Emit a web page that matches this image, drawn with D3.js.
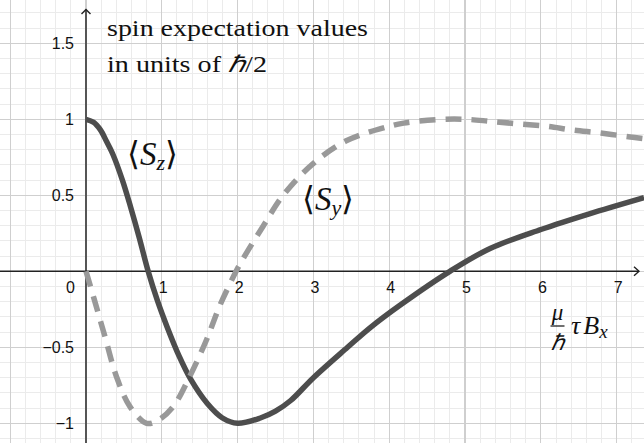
<!DOCTYPE html>
<html>
<head>
<meta charset="utf-8">
<script src="https://cdn.jsdelivr.net/npm/d3@7"></script>
<style>
  body { margin: 0; background: #fff; }
  svg { display: block; }
  svg text.serif, svg text.serif tspan { font-family: 'Liberation Serif' !important; }
  svg text.tick { font-family: 'Liberation Sans' !important; }
</style>
</head>
<body>
<script>
// values (x in units of mu/hbar * tau * Bx)
var szX = [0, 0.1, 0.19, 0.27, 0.35, 0.48, 0.59, 0.70, 0.82, 0.94, 1.07, 1.23, 1.38, 1.6, 1.8, 2.0, 2.3, 2.5, 2.7, 3.0, 3.45, 3.75, 4.15, 4.8, 5.33, 6.0, 6.65, 7.36];
var szY = [1.0, 0.98, 0.93, 0.855, 0.775, 0.6, 0.42, 0.226, 0.0, -0.19, -0.366, -0.56, -0.71, -0.87, -0.965, -1.0, -0.965, -0.92, -0.85, -0.7, -0.5, -0.37, -0.22, 0.0, 0.15, 0.275, 0.38, 0.485];

var syX = [0, 0.1, 0.25, 0.4, 0.58, 0.8, 0.95, 1.15, 1.37, 1.59, 1.77, 1.98, 2.08, 2.34, 2.6, 3.0, 3.44, 3.97, 4.19, 4.63, 5.0, 5.33, 5.7, 6.08, 6.41, 6.78, 7.18, 7.36];
var syY = [0, -0.17, -0.43, -0.69, -0.89, -1.0, -0.98, -0.89, -0.69, -0.45, -0.22, 0.0, 0.09, 0.3, 0.5, 0.71, 0.86, 0.95, 0.975, 0.998, 1.0, 0.987, 0.97, 0.954, 0.93, 0.91, 0.884, 0.873];

var xTicks = [1, 2, 3, 4, 5, 6, 7];
var yTicks = [-1, -0.5, 0.5, 1, 1.5];
var yTickLabels = ["\u22121", "\u22120.5", "0.5", "1", "1.5"];

var width = 644, height = 443;
var serif = "Liberation Serif";

var svg = d3.select("body").append("svg")
  .attr("width", width)
  .attr("height", height);

// pixel position of origin and unit sizes measured on the picture
var x = d3.scaleLinear().domain([0, 7]).range([86, 616.7]);
var y = d3.scaleLinear().domain([-1, 1.5]).range([423.3, 43.3]);

var xMin = x.invert(0), xMax = x.invert(width);
var yMin = y.invert(height), yMax = y.invert(0);

// grid lines: minor every 0.2 / 0.1, major every 1 / 0.5
var minorX = d3.range(Math.ceil(xMin / 0.2), Math.floor(xMax / 0.2) + 1).map(d => d * 0.2);
var minorY = d3.range(Math.ceil(yMin / 0.1), Math.floor(yMax / 0.1) + 1).map(d => d * 0.1);
var majorX = d3.range(Math.ceil(xMin), Math.floor(xMax) + 1);
var majorY = d3.range(Math.ceil(yMin / 0.5), Math.floor(yMax / 0.5) + 1).map(d => d * 0.5);

var grid = svg.append("g").attr("shape-rendering", "crispEdges");
grid.selectAll(".mx").data(minorX).enter().append("line")
  .attr("x1", d => x(d)).attr("x2", d => x(d))
  .attr("y1", 0).attr("y2", height)
  .attr("stroke", "#ebebeb").attr("stroke-width", 1);
grid.selectAll(".my").data(minorY).enter().append("line")
  .attr("y1", d => y(d)).attr("y2", d => y(d))
  .attr("x1", 0).attr("x2", width)
  .attr("stroke", "#ebebeb").attr("stroke-width", 1);
grid.selectAll(".Mx").data(majorX).enter().append("line")
  .attr("x1", d => x(d)).attr("x2", d => x(d))
  .attr("y1", 0).attr("y2", height)
  .attr("stroke", "#cfcfcf").attr("stroke-width", 1.2);
grid.selectAll(".My").data(majorY).enter().append("line")
  .attr("y1", d => y(d)).attr("y2", d => y(d))
  .attr("x1", 0).attr("x2", width)
  .attr("stroke", "#cfcfcf").attr("stroke-width", 1.2);

// axes with open arrow heads
var ax = svg.append("g").attr("stroke", "#222").attr("stroke-width", 1.4).attr("fill", "none");
ax.append("line").attr("x1", 0).attr("x2", 639).attr("y1", y(0)).attr("y2", y(0));
ax.append("path").attr("d", "M634," + (y(0) - 4.5) + "L639," + y(0) + "L634," + (y(0) + 4.5));
ax.append("line").attr("x1", x(0)).attr("x2", x(0)).attr("y1", height).attr("y2", 9.5);
ax.append("path").attr("d", "M" + (x(0) - 4.5) + ",14L" + x(0) + ",9.5L" + (x(0) + 4.5) + ",14");

// tick labels
function tickText(sel) {
  sel.attr("class", "tick").attr("font-family", "Liberation Sans").attr("font-size", 16).attr("fill", "#111");
}
svg.selectAll(".xt").data(xTicks).enter().append("text")
  .attr("x", d => x(d) + 1.5)
  .attr("y", y(0) + 22)
  .attr("text-anchor", "middle")
  .call(tickText)
  .text(d => d);
svg.selectAll(".yt").data(yTicks).enter().append("text")
  .attr("x", 74)
  .attr("y", d => y(d) + 6)
  .attr("text-anchor", "end")
  .call(tickText)
  .text((d, i) => yTickLabels[i]);
svg.append("text")
  .attr("x", 75).attr("y", y(0) + 22)
  .attr("text-anchor", "end")
  .call(tickText)
  .text("0");

// curves
var line = d3.line()
  .x(d => x(d[0]))
  .y(d => y(d[1]))
  .curve(d3.curveCatmullRom.alpha(0.5));

var szData = szX.map((d, i) => [d, szY[i]]);
var syData = syX.map((d, i) => [d, syY[i]]);

svg.append("path")
  .attr("d", line(szData))
  .attr("fill", "none")
  .attr("stroke", "#4d4d4d")
  .attr("stroke-width", 5.5);

svg.append("path")
  .attr("d", line(syData))
  .attr("fill", "none")
  .attr("stroke", "#999999")
  .attr("stroke-width", 5.5)
  .attr("stroke-dasharray", "16,10");

// serif text labels, like the LaTeX output
function serifText(px, py, size) {
  return svg.append("text")
    .attr("class", "serif")
    .attr("x", px).attr("y", py)
    .attr("font-family", serif)
    .style("font-family", "'" + serif + "'")
    .attr("font-size", size)
    .attr("fill", "#111");
}

serifText(107, 36, 23)
  .attr("textLength", 261).attr("lengthAdjust", "spacingAndGlyphs")
  .text("spin expectation values");
var t2 = serifText(107, 72, 23)
  .attr("textLength", 160).attr("lengthAdjust", "spacingAndGlyphs");
t2.append("tspan").text("in units of ");
t2.append("tspan").attr("font-style", "italic").text("\u210F");
t2.append("tspan").text("/2");

function bracketLabel(px, py, sub) {
  var t = serifText(px, py, 33);
  t.append("tspan").text("\u27E8");
  t.append("tspan").attr("font-style", "italic").text("S");
  t.append("tspan").attr("font-style", "italic").attr("font-size", 22).attr("dy", 5).text(sub);
  t.append("tspan").attr("dy", -5).text("\u27E9");
}
bracketLabel(127, 165, "z");
bracketLabel(302, 210, "y");

// x-axis variable: mu/hbar tau B_x
serifText(557.5, 320, 23).attr("text-anchor", "middle")
  .attr("font-style", "italic").text("\u03BC");
svg.append("line").attr("x1", 550.5).attr("x2", 564.5).attr("y1", 326).attr("y2", 326)
  .attr("stroke", "#111").attr("stroke-width", 1.2);
serifText(557.5, 350, 22).attr("text-anchor", "middle")
  .attr("font-style", "italic").text("\u210F");
var tb = serifText(571, 334, 26);
tb.append("tspan").attr("font-style", "italic").text("\u03C4");
tb.append("tspan").attr("font-style", "italic").attr("dx", 3).text("B");
tb.append("tspan").attr("font-style", "italic").attr("font-size", 19).attr("dy", 4).text("x");
</script>
</body>
</html>
